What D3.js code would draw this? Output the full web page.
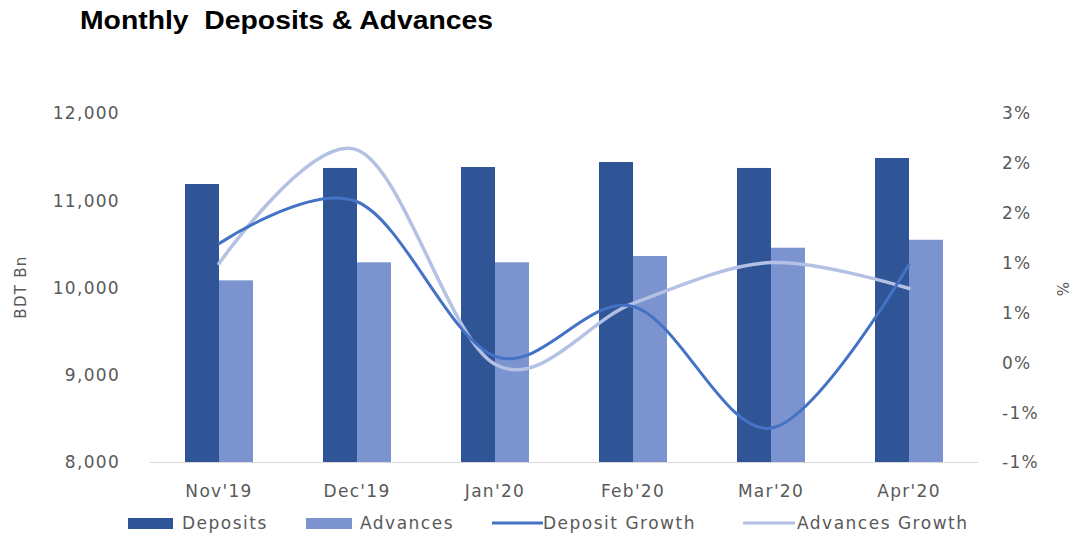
<!DOCTYPE html>
<html>
<head>
<meta charset="utf-8">
<script src="https://cdn.jsdelivr.net/npm/d3@7"></script>
<style>
  html, body { margin: 0; padding: 0; background: #fff; }
  svg { display: block; }
  text { font-family: "DejaVu Sans", sans-serif; fill: #595959; }
</style>
</head>
<body>
<svg id="chart" width="1076" height="536"></svg>
<script>
const months = ["Nov'19", "Dec'19", "Jan'20", "Feb'20", "Mar'20", "Apr'20"];
const deposits = [11186, 11370, 11381, 11438, 11370, 11484];
const advances = [10082, 10289, 10289, 10361, 10456, 10547];
const depositGrowth = [1.19, 1.61, 0.06, 0.56, -0.66, 0.98];
const advancesGrowth = [0.99, 2.13, -0.02, 0.59, 1.0, 0.74];
const leftTicks = [8000, 9000, 10000, 11000, 12000];
const rightTicks = [-1.0, -0.5, 0.0, 0.5, 1.0, 1.5, 2.0, 2.5];

const svg = d3.select("#chart");
const pLeft = 150, pRight = 978, pTop = 113, pBottom = 462;

const x = d3.scaleBand().domain(months).range([pLeft, pRight]).padding(0);
const bw = 34;
const x1 = d3.scaleBand().domain(["Deposits", "Advances"])
  .range([x.bandwidth() / 2 - bw, x.bandwidth() / 2 + bw]);
const yL = d3.scaleLinear().domain([8000, 12000]).range([pBottom, pTop]);
const yR = d3.scaleLinear().domain([-1.0, 2.5]).range([pBottom, pTop]);

const colors = { dep: "#2F5597", adv: "#7B93CF", depG: "#4472C4", advG: "#B4C1E5" };

// Title
svg.append("text").attr("x", 80).attr("y", 29)
  .attr("textLength", 413).attr("lengthAdjust", "spacingAndGlyphs")
  .style("white-space", "pre")
  .style("font-family", "'Liberation Sans', Arial, sans-serif")
  .style("font-weight", "bold").style("font-size", "25px").style("fill", "#000")
  .text("Monthly  Deposits & Advances");

// Bars
const g = svg.append("g");
months.forEach((m, i) => {
  g.append("rect").attr("x", x(m) + x1("Deposits")).attr("width", x1.bandwidth())
    .attr("y", yL(deposits[i])).attr("height", yL(8000) - yL(deposits[i]))
    .attr("fill", colors.dep);
  g.append("rect").attr("x", x(m) + x1("Advances")).attr("width", x1.bandwidth())
    .attr("y", yL(advances[i])).attr("height", yL(8000) - yL(advances[i]))
    .attr("fill", colors.adv);
});

// Baseline
svg.append("line").attr("x1", pLeft).attr("x2", pRight).attr("y1", pBottom + 0.5).attr("y2", pBottom + 0.5)
  .attr("stroke", "#D9D9D9").attr("stroke-width", 1.2);

// Lines
const cx = m => x(m) + x.bandwidth() / 2;
const lineGen = data => d3.line().curve(d3.curveCatmullRom.alpha(0))
  .x((d, i) => cx(months[i])).y(d => yR(d))(data);
svg.append("path").attr("d", lineGen(advancesGrowth)).attr("fill", "none")
  .attr("stroke", colors.advG).attr("stroke-width", 3.5).attr("stroke-linecap", "round");
svg.append("path").attr("d", lineGen(depositGrowth)).attr("fill", "none")
  .attr("stroke", colors.depG).attr("stroke-width", 3).attr("stroke-linecap", "round");

// Left axis
const fmtL = d3.format(",");
const axL = svg.append("g").attr("transform", `translate(${pLeft - 30},0)`)
  .call(d3.axisLeft(yL).tickValues(leftTicks).tickSize(0).tickPadding(0).tickFormat(fmtL));
axL.select(".domain").remove();
axL.attr("font-family", null).attr("font-size", null);
axL.selectAll("text").style("font-size", "17px").style("letter-spacing", "1.3px")
  .style("fill", "#595959").attr("dy", "0.35em");

// Right axis
const roundExcel = d => { const s = Math.sign(d); return s * Math.round(Math.abs(d)); };
const axR = svg.append("g").attr("transform", `translate(${pRight + 24},0)`)
  .call(d3.axisRight(yR).tickValues(rightTicks).tickSize(0).tickPadding(0)
    .tickFormat(d => roundExcel(d) + "%"));
axR.select(".domain").remove();
axR.attr("font-family", null).attr("font-size", null);
axR.selectAll("text").style("font-size", "17px").style("letter-spacing", "1.3px")
  .style("fill", "#595959").attr("dy", "0.35em");

// X axis
const axX = svg.append("g").attr("transform", `translate(0,${pBottom})`)
  .call(d3.axisBottom(x).tickSize(0).tickPadding(0));
axX.select(".domain").remove();
axX.attr("font-family", null).attr("font-size", null);
axX.selectAll("text").style("font-size", "17px").style("letter-spacing", "1.3px")
  .style("fill", "#595959").attr("y", 35).attr("dy", 0);

// Axis titles
svg.append("text").attr("transform", "translate(26,287) rotate(-90)")
  .attr("text-anchor", "middle").style("font-size", "15px").style("letter-spacing", "1.3px")
  .text("BDT Bn");
svg.append("text").attr("transform", "translate(1057,289) rotate(90)")
  .attr("text-anchor", "middle").style("font-size", "15px")
  .text("%");

// Legend
const legend = [
  { name: "Deposits", type: "rect", color: colors.dep, x0: 128, x1: 173, tx: 182 },
  { name: "Advances", type: "rect", color: colors.adv, x0: 306, x1: 352, tx: 360 },
  { name: "Deposit Growth", type: "line", color: colors.depG, x0: 492, x1: 543, tx: 543 },
  { name: "Advances Growth", type: "line", color: colors.advG, x0: 743, x1: 795, tx: 797 }
];
const ly = 523;
legend.forEach(l => {
  if (l.type === "rect") {
    svg.append("rect").attr("x", l.x0).attr("y", ly - 5).attr("width", l.x1 - l.x0).attr("height", 11)
      .attr("fill", l.color);
  } else {
    svg.append("line").attr("x1", l.x0).attr("x2", l.x1).attr("y1", ly).attr("y2", ly)
      .attr("stroke", l.color).attr("stroke-width", 3);
  }
  svg.append("text").attr("x", l.tx).attr("y", ly).attr("dy", "0.35em")
    .style("font-size", "17px").style("letter-spacing", "1.5px").text(l.name);
});
</script>
</body>
</html>
